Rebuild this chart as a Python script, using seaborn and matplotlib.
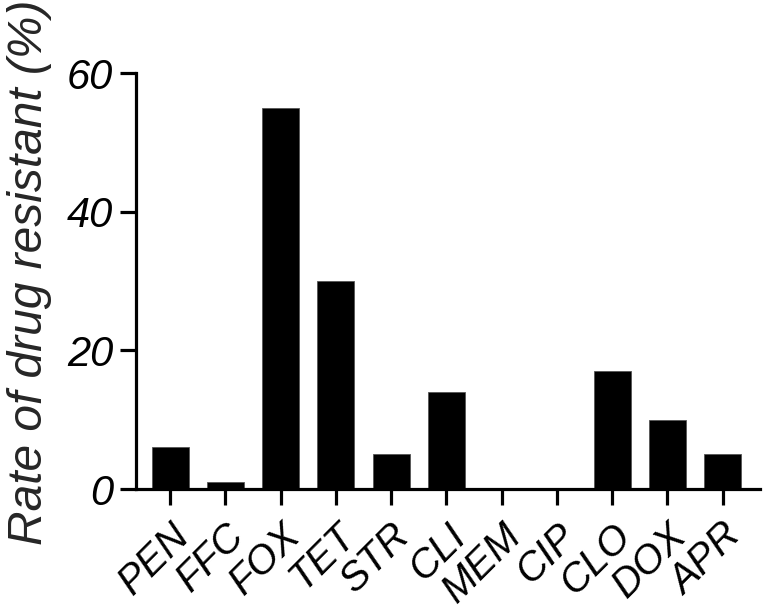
import numpy as np
import pandas as pd
import matplotlib
matplotlib.use("Agg")
import matplotlib.pyplot as plt
import seaborn as sns

# ------------------------------------------
# Data
# ------------------------------------------
drugs = ["PEN", "FFC", "FOX", "TET", "STR", "CLI", "MEM", "CIP", "CLO", "DOX", "APR"]
resist_rate = [6, 1, 55, 30, 5, 14, 0, 0, 17, 10, 5]
y_ticks = [0, 20, 40, 60]

df = pd.DataFrame({"drug": drugs, "rate": resist_rate})

# ------------------------------------------
# Style
# ------------------------------------------
sns.set_style("ticks")
plt.rcParams["font.family"] = ["Liberation Sans", "DejaVu Sans"]
plt.rcParams["font.style"] = "italic"

fig = plt.figure(figsize=(7.65, 6.09), dpi=100)
ax = fig.add_axes([0.178, 0.197, 0.815, 0.683])

sns.barplot(data=df, x="drug", y="rate", color="black", width=0.67,
            edgecolor="#555555", linewidth=0.6, saturation=1, ax=ax)

ax.set_ylim(0, 60)
ax.set_xlim(-0.615, 10.67)
ax.set_yticks(y_ticks)
ax.set_yticklabels([str(t) for t in y_ticks], fontsize=30, fontstyle="italic")
ax.set_xticks(range(len(drugs)))
ax.set_xticklabels(drugs, rotation=45, ha="right", rotation_mode="anchor",
                   fontsize=29, fontstyle="italic")

ax.set_xlabel("")
ax.set_ylabel("Rate of drug resistant (%)", fontsize=34.5, fontstyle="italic")
ax.yaxis.set_label_coords(-0.135, 0.522)

for side in ["top", "right"]:
    ax.spines[side].set_visible(False)
for side in ["left", "bottom"]:
    ax.spines[side].set_linewidth(2.3)
    ax.spines[side].set_color("black")

ax.tick_params(axis="y", length=11.5, width=2.3, pad=5, colors="black")
ax.tick_params(axis="x", length=11.5, width=2.3, pad=8, colors="black")

fig.savefig("out.png", dpi=100)
